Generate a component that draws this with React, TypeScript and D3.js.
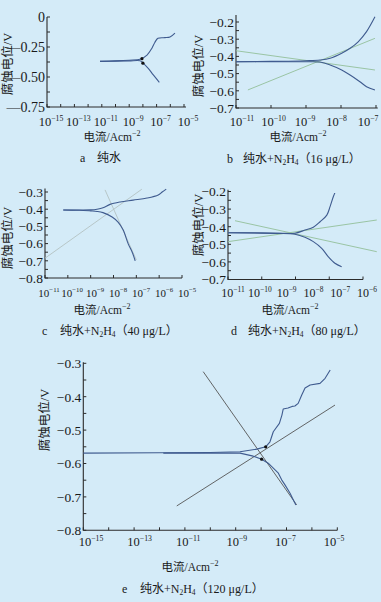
import * as d3 from "d3";
import { useEffect, useRef } from "react";

type Pt = [number, number]; // [log10 current density, potential V]

const W = 381;
const H = 602;
const BG = "#d4ebf8";
const CURVE = "#3f5b8f";
const FONT = "'Liberation Serif','Times New Roman','Noto Sans CJK SC',serif";

// ---- a 纯水
const aAnodic: Pt[] = [[-11.13, -0.37], [-10, -0.366], [-9, -0.36], [-8.21, -0.352], [-7.7, -0.317], [-7.34, -0.26], [-7.12, -0.21], [-6.9, -0.177], [-6.4, -0.172], [-6.02, -0.167], [-5.66, -0.135]];
const aCathodic: Pt[] = [[-11.13, -0.37], [-10, -0.368], [-9, -0.366], [-8.21, -0.365], [-7.97, -0.386], [-7.61, -0.428], [-7.24, -0.483], [-6.8, -0.544]];
const aDots: Pt[] = [[-8.07, -0.347], [-8.0, -0.385]];
const aYTicks = [0, -0.25, -0.5, -0.75];
const aYMinor = [-0.125, -0.375, -0.625];
const aXLabels = [-15, -13, -11, -9, -7, -5];
const aXTicks = [-15, -14, -13, -12, -11, -10, -9, -8, -7, -6, -5];

// ---- b 纯水+N2H4(16 μg/L)
const bAnodic: Pt[] = [[-11, -0.431], [-10, -0.429], [-9, -0.425], [-8.6, -0.421], [-8.31, -0.411], [-7.98, -0.382], [-7.74, -0.353], [-7.51, -0.315], [-7.27, -0.256], [-7.03, -0.17]];
const bCathodic: Pt[] = [[-11, -0.431], [-10, -0.431], [-9, -0.431], [-8.6, -0.433], [-8.31, -0.45], [-7.98, -0.479], [-7.74, -0.508], [-7.46, -0.547], [-7.27, -0.576], [-7.03, -0.595]];
const bFits: Pt[][] = [[[-11, -0.367], [-7.03, -0.479]], [[-10.66, -0.595], [-7.03, -0.295]]];
const bYTicks = [-0.2, -0.3, -0.4, -0.5, -0.6, -0.7];
const bYMinor = [-0.25, -0.35, -0.45, -0.55, -0.65];
const bXLabels = [-11, -10, -9, -8, -7];
const bXTicks = [-11, -10, -9, -8, -7];

// ---- c 纯水+N2H4(40 μg/L)
const cAnodic: Pt[] = [[-10.2, -0.405], [-9.5, -0.405], [-9, -0.404], [-8.72, -0.4], [-8.46, -0.392], [-8.15, -0.372], [-7.71, -0.358], [-7.14, -0.347], [-6.53, -0.335], [-6.04, -0.317], [-5.87, -0.3], [-5.69, -0.283]];
const cCathodic: Pt[] = [[-10.2, -0.405], [-9.5, -0.406], [-9, -0.41], [-8.72, -0.413], [-8.46, -0.42], [-8.06, -0.445], [-7.8, -0.475], [-7.58, -0.52], [-7.36, -0.6], [-7.18, -0.65], [-7.05, -0.7]];
const cFits: Pt[][] = [[[-11, -0.685], [-6.76, -0.284]], [[-8.37, -0.288], [-7.0, -0.695]]];
const cYTicks = [-0.3, -0.4, -0.5, -0.6, -0.7, -0.8];
const cYMinor = [-0.35, -0.45, -0.55, -0.65, -0.75];
const cXLabels = [-11, -10, -9, -8, -7, -6, -5];
const cXTicks = [-11, -10, -9, -8, -7, -6, -5];

// ---- d 纯水+N2H4(80 μg/L)
const dAnodic: Pt[] = [[-11, -0.434], [-10, -0.435], [-9.15, -0.437], [-8.52, -0.437], [-8.15, -0.419], [-7.84, -0.403], [-7.59, -0.372], [-7.34, -0.334], [-7.22, -0.286], [-7.1, -0.23], [-7.04, -0.207]];
const dCathodic: Pt[] = [[-11, -0.434], [-10, -0.436], [-9.15, -0.438], [-8.52, -0.443], [-8.15, -0.46], [-7.84, -0.485], [-7.53, -0.523], [-7.29, -0.57], [-7.04, -0.608], [-6.79, -0.627]];
const dFits: Pt[][] = [[[-10.74, -0.366], [-5.49, -0.542]], [[-11, -0.485], [-5.49, -0.362]]];
const dYTicks = [-0.2, -0.3, -0.4, -0.5, -0.6, -0.7];
const dYMinor = [-0.25, -0.35, -0.45, -0.55, -0.65];
const dXLabels = [-11, -10, -9, -8, -7, -6];
const dXTicks = [-11, -9.75, -8.5, -7.25, -6];

// ---- e 纯水+N2H4(120 μg/L)
const eAnodic: Pt[] = [[-15, -0.569], [-12, -0.568], [-10, -0.567], [-8.83, -0.565], [-8.17, -0.557], [-7.82, -0.55], [-7.65, -0.535], [-7.52, -0.505], [-7.28, -0.48], [-7.18, -0.455], [-7.13, -0.437], [-6.94, -0.434], [-6.78, -0.429], [-6.67, -0.428], [-6.54, -0.42], [-6.4, -0.395], [-6.27, -0.374], [-6.07, -0.365], [-5.68, -0.36], [-5.48, -0.345], [-5.28, -0.32]];
const eCathodic: Pt[] = [[-11.85, -0.569], [-10, -0.569], [-8.83, -0.569], [-8.31, -0.578], [-7.98, -0.587], [-7.72, -0.599], [-7.52, -0.614], [-7.32, -0.629], [-7.19, -0.649], [-7.06, -0.664], [-6.86, -0.689], [-6.73, -0.709], [-6.63, -0.724]];
const eFits: Pt[][] = [[[-10.28, -0.325], [-6.6, -0.724]], [[-11.32, -0.727], [-5.09, -0.425]]];
const eDots: Pt[] = [[-7.82, -0.55], [-7.98, -0.587]];
const eYTicks = [-0.3, -0.4, -0.5, -0.6, -0.7, -0.8];
const eYMinor = [-0.35, -0.45, -0.55, -0.65, -0.75];
const eXLabels = [-15, -13, -11, -9, -7, -5];
const eXTicks = [-15, -14, -13, -12, -11, -10, -9, -8, -7, -6, -5];

interface Panel {
  anodic: Pt[];
  cathodic: Pt[];
  fits: Pt[][];
  dots: Pt[];
  fitColor: string;
  smooth: boolean;
  exp: [number, number];
  xPx: [number, number];
  axisRightExp: number;
  yVal: [number, number];
  yPx: [number, number];
  axisTopVal: number;
  yTicks: number[];
  yMinor: number[];
  yFmt: (v: number) => string;
  yFont: number;
  xTicks: number[];
  xLabels: number[];
  xFont: number;
  labelPx: [number, number];
  labelDy: number;
  yTitle: [number, number];
  xTitle: [number, number];
  letter: string;
  letterX: number;
  capX: number;
  capY: number;
  conc: string | null;
}

const fmt1 = (v: number) => "−" + Math.abs(v).toFixed(1);
const fmt2 = (v: number) => (v === 0 ? "0" : "—" + Math.abs(v).toFixed(2));

const panels: Panel[] = [
  {
    anodic: aAnodic, cathodic: aCathodic, fits: [], dots: aDots, fitColor: "#999", smooth: true,
    exp: [-15, -5], xPx: [47, 184], axisRightExp: -4.85,
    yVal: [0, -0.75], yPx: [17, 107], axisTopVal: 0,
    yTicks: aYTicks, yMinor: aYMinor, yFmt: fmt2, yFont: 14,
    xTicks: aXTicks, xLabels: aXLabels, xFont: 12.5, labelPx: [51, 188], labelDy: 18.5,
    yTitle: [8, 64], xTitle: [112, 141],
    letter: "a", letterX: 80, capX: 97, capY: 162, conc: null,
  },
  {
    anodic: bAnodic, cathodic: bCathodic, fits: bFits, dots: [], fitColor: "#93bf9a", smooth: true,
    exp: [-11, -7], xPx: [236, 376], axisRightExp: -6.95,
    yVal: [-0.2, -0.7], yPx: [22, 108], axisTopVal: -0.16,
    yTicks: bYTicks, yMinor: bYMinor, yFmt: fmt1, yFont: 13.5,
    xTicks: bXTicks, xLabels: bXLabels, xFont: 12.5, labelPx: [242, 368], labelDy: 17.5,
    yTitle: [199, 66], xTitle: [298, 141],
    letter: "b", letterX: 227, capX: 243, capY: 163, conc: "16",
  },
  {
    anodic: cAnodic, cathodic: cCathodic, fits: cFits, dots: [], fitColor: "#b3c2c2", smooth: true,
    exp: [-11, -5], xPx: [45, 182], axisRightExp: -5,
    yVal: [-0.3, -0.8], yPx: [192, 278], axisTopVal: -0.28,
    yTicks: cYTicks, yMinor: cYMinor, yFmt: fmt1, yFont: 13.5,
    xTicks: cXTicks, xLabels: cXLabels, xFont: 11, labelPx: [49, 187], labelDy: 19,
    yTitle: [8, 238], xTitle: [102, 314],
    letter: "c", letterX: 42, capX: 60, capY: 335, conc: "40",
  },
  {
    anodic: dAnodic, cathodic: dCathodic, fits: dFits, dots: [], fitColor: "#93bf9a", smooth: true,
    exp: [-11, -6], xPx: [228, 363], axisRightExp: -6,
    yVal: [-0.2, -0.7], yPx: [191.5, 279.5], axisTopVal: -0.19,
    yTicks: dYTicks, yMinor: dYMinor, yFmt: fmt1, yFont: 13.5,
    xTicks: dXTicks, xLabels: dXLabels, xFont: 12, labelPx: [233, 367], labelDy: 17.5,
    yTitle: [199, 225], xTitle: [290, 314],
    letter: "d", letterX: 231, capX: 248, capY: 335, conc: "80",
  },
  {
    anodic: eAnodic, cathodic: eCathodic, fits: eFits, dots: eDots, fitColor: "#555", smooth: false,
    exp: [-15, -5], xPx: [83.3, 337.3], axisRightExp: -5,
    yVal: [-0.3, -0.8], yPx: [363.3, 530.3], axisTopVal: -0.297,
    yTicks: eYTicks, yMinor: eYMinor, yFmt: fmt1, yFont: 13.5,
    xTicks: eXTicks, xLabels: eXLabels, xFont: 12.5, labelPx: [91, 334], labelDy: 15.5,
    yTitle: [45, 420], xTitle: [190, 571],
    letter: "e", letterX: 122, capX: 140, capY: 593, conc: "120",
  },
];

function drawPanel(svg: d3.Selection<SVGSVGElement, unknown, null, undefined>, p: Panel) {
  const g = svg.append("g");
  const x = d3.scaleLog().domain([10 ** p.exp[0], 10 ** p.exp[1]]).range(p.xPx);
  const y = d3.scaleLinear().domain(p.yVal).range(p.yPx);
  const lx = d3.scaleLinear()
    .domain([p.xLabels[0], p.xLabels[p.xLabels.length - 1]])
    .range(p.labelPx);
  const px = (d: Pt) => x(10 ** d[0]);
  const py = (d: Pt) => y(d[1]);

  const x0 = p.xPx[0];
  const yb = p.yPx[1];

  // axes frame
  g.append("path")
    .attr("d", `M${x0},${y(p.axisTopVal)}V${yb}H${x(10 ** p.axisRightExp)}`)
    .attr("fill", "none")
    .attr("stroke", "#2b2b2b")
    .attr("stroke-width", 1.1);

  // y ticks
  [...p.yTicks, ...p.yMinor].forEach((v) => {
    g.append("line")
      .attr("x1", x0).attr("x2", x0 + 3)
      .attr("y1", y(v)).attr("y2", y(v))
      .attr("stroke", "#2b2b2b").attr("stroke-width", 1);
  });
  p.yTicks.forEach((v) => {
    g.append("text")
      .attr("x", x0 - 2)
      .attr("y", y(v))
      .attr("dy", "0.36em")
      .attr("text-anchor", "end")
      .attr("font-family", FONT)
      .attr("font-size", p.yFont)
      .attr("fill", "#1a1a1a")
      .text(p.yFmt(v));
  });

  // x ticks
  p.xTicks.forEach((e) => {
    g.append("line")
      .attr("x1", x(10 ** e)).attr("x2", x(10 ** e))
      .attr("y1", yb).attr("y2", yb - 3)
      .attr("stroke", "#2b2b2b").attr("stroke-width", 1);
  });
  p.xLabels.forEach((e) => {
    const t = g.append("text")
      .attr("x", lx(e))
      .attr("y", yb + p.labelDy)
      .attr("text-anchor", "middle")
      .attr("font-family", FONT)
      .attr("font-size", p.xFont)
      .attr("fill", "#1a1a1a");
    t.append("tspan").text("10");
    t.append("tspan").attr("dy", -5).attr("font-size", p.xFont * 0.62).text("−" + Math.abs(e));
  });

  // titles
  g.append("text")
    .attr("transform", `translate(${p.yTitle[0]},${p.yTitle[1]}) rotate(-90)`)
    .attr("text-anchor", "middle")
    .attr("dominant-baseline", "central")
    .attr("font-family", FONT)
    .attr("font-size", 12.5)
    .attr("fill", "#1a1a1a")
    .text("腐蚀电位/V");

  const xt = g.append("text")
    .attr("x", p.xTitle[0])
    .attr("y", p.xTitle[1])
    .attr("text-anchor", "middle")
    .attr("font-family", FONT)
    .attr("font-size", 11.5)
    .attr("fill", "#1a1a1a");
  xt.append("tspan").text("电流/Acm");
  xt.append("tspan").attr("dy", -5).attr("font-size", 8).text("−2");

  // caption
  g.append("text")
    .attr("x", p.letterX).attr("y", p.capY)
    .attr("font-family", FONT).attr("font-size", 12).attr("fill", "#1a1a1a")
    .text(p.letter);
  const cap = g.append("text")
    .attr("x", p.capX).attr("y", p.capY)
    .attr("font-family", FONT).attr("font-size", 12).attr("fill", "#1a1a1a");
  cap.append("tspan").text(p.conc ? "纯水+N" : "纯水");
  if (p.conc) {
    cap.append("tspan").attr("dy", 2).attr("font-size", 7.5).text("2");
    cap.append("tspan").attr("dy", -2).text("H");
    cap.append("tspan").attr("dy", 2).attr("font-size", 7.5).text("4");
    cap.append("tspan").attr("dy", -2).text(`（${p.conc} μg/L）`);
  }

  // fitted Tafel lines
  const lineGen = d3.line<Pt>().x(px).y(py);
  p.fits.forEach((f) => {
    g.append("path")
      .datum(f)
      .attr("d", lineGen)
      .attr("fill", "none")
      .attr("stroke", p.fitColor)
      .attr("stroke-width", 0.9);
  });

  // polarisation curves
  const curveGen = d3.line<Pt>().x(px).y(py)
    .curve(p.smooth ? d3.curveCatmullRom : d3.curveLinear);
  [p.cathodic, p.anodic].forEach((c) => {
    g.append("path")
      .datum(c)
      .attr("d", curveGen)
      .attr("fill", "none")
      .attr("stroke", CURVE)
      .attr("stroke-width", 1.1)
      .attr("stroke-linejoin", "round");
  });

  g.selectAll("circle.dot")
    .data(p.dots)
    .enter()
    .append("circle")
    .attr("cx", px)
    .attr("cy", py)
    .attr("r", 1.6)
    .attr("fill", "#111");
}

export default function App() {
  const ref = useRef<SVGSVGElement>(null);

  useEffect(() => {
    if (!ref.current) return;
    document.body.style.margin = "0";
    const svg = d3.select(ref.current);
    svg.selectAll("*").remove();
    svg.append("rect").attr("width", W).attr("height", H).attr("fill", BG);
    panels.forEach((p) => drawPanel(svg, p));
  }, []);

  return <svg ref={ref} width={W} height={H} style={{ display: "block" }} />;
}
